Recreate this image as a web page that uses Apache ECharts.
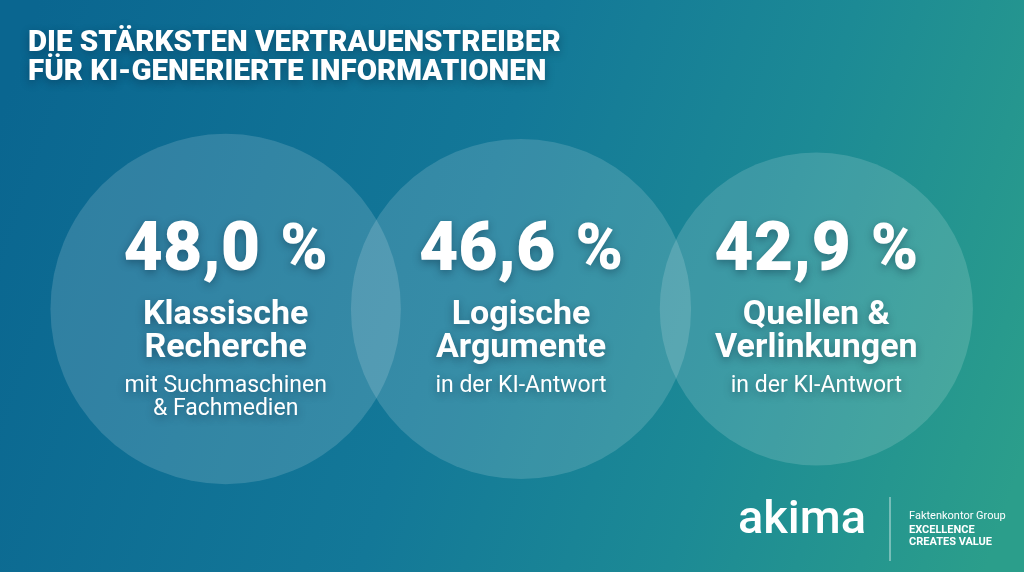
<!DOCTYPE html>
<html>
<head>
<meta charset="utf-8">
<script src="https://cdn.jsdelivr.net/npm/echarts@6/dist/echarts.min.js"></script>
<style>
html,body{margin:0;padding:0;width:1024px;height:572px;overflow:hidden;}
#chart{width:1024px;height:572px;}
</style>
</head>
<body>
<div id="chart"></div>
<script>
const categories = ['Klassische Recherche', 'Logische Argumente', 'Quellen & Verlinkungen'];
const values = [48.0, 46.6, 42.9];
const valueLabels = ['48,0', '46,6', '42,9'];
const titleLines = [['Klassische', 'Recherche'], ['Logische', 'Argumente'], ['Quellen &', 'Verlinkungen']];
const subLines = [['mit Suchmaschinen', '& Fachmedien'], ['in der KI-Antwort'], ['in der KI-Antwort']];
const chartTitle = ['DIE STÄRKSTEN VERTRAUENSTREIBER', 'FÜR KI-GENERIERTE INFORMATIONEN'];
const brand = 'akima';
const brandLines = ['Faktenkontor Group', 'EXCELLENCE', 'CREATES VALUE'];

const shadow = { textShadowColor: 'rgba(0,20,40,0.35)', textShadowBlur: 8, textShadowOffsetY: 3 };

const chart = echarts.init(document.getElementById('chart'));
chart.setOption({
  backgroundColor: {
    type: 'linear', x: 0, y: 0.2, x2: 1, y2: 0.8,
    colorStops: [
      { offset: 0, color: '#0a6690' },
      { offset: 0.45, color: '#137898' },
      { offset: 0.72, color: '#1c8a95' },
      { offset: 1, color: '#2b9e8b' }
    ]
  },
  title: {
    text: chartTitle.join('\n'),
    left: 23, top: 24,
    textStyle: Object.assign({
      color: '#ffffff', fontFamily: 'Roboto', fontWeight: 900, fontSize: 29.5, lineHeight: 29
    }, shadow)
  },
  grid: { left: 78, right: 60, top: 109, bottom: 63 },
  xAxis: { type: 'category', data: categories, show: false },
  yAxis: { type: 'value', min: -1, max: 1, show: false },
  series: [{
    type: 'scatter',
    symbol: 'circle',
    data: categories.map(c => [c, 0]),
    symbolSize: (val, p) => values[p.dataIndex] * 7.3,
    itemStyle: { color: 'rgba(255,255,255,0.15)', opacity: 1 },
    silent: true,
    label: {
      show: true,
      position: 'inside',
      verticalAlign: 'top',
      offset: [0, -103],
      formatter: p => {
        const i = p.dataIndex;
        let s = '{num|' + valueLabels[i] + '}{pct|%}\n';
        s += titleLines[i].map(t => '{t|' + t + '}').join('\n');
        s += '\n{gap| }\n';
        s += subLines[i].map(t => '{s|' + t + '}').join('\n');
        return s;
      },
      rich: {
        num: Object.assign({ color: '#fff', fontFamily: 'Roboto', fontWeight: 900, fontSize: 68, lineHeight: 93 }, shadow),
        pct: Object.assign({ color: '#fff', fontFamily: 'Roboto', fontWeight: 900, fontSize: 64, lineHeight: 93, padding: [0, 0, 0, 20] }, shadow),
        t: Object.assign({ color: '#fff', fontFamily: 'Roboto', fontWeight: 'bold', fontSize: 34, lineHeight: 33 }, shadow),
        gap: { fontSize: 2, lineHeight: 10 },
        s: Object.assign({ color: '#fff', fontFamily: 'Roboto', fontWeight: 'normal', fontSize: 23, lineHeight: 23 }, shadow)
      }
    }
  }],
  graphic: [
    { type: 'text', left: 738, top: 498, style: { text: brand, fill: '#fff', font: '500 47px Roboto' } },
    { type: 'line', shape: { x1: 890, y1: 497, x2: 890, y2: 561 }, style: { stroke: 'rgba(255,255,255,0.75)', lineWidth: 1 } },
    { type: 'text', left: 909, top: 511, style: { text: brandLines[0], fill: '#fff', font: 'normal 11px Roboto' } },
    { type: 'text', left: 909, top: 525, style: { text: brandLines[1], fill: '#fff', font: 'bold 11px Roboto' } },
    { type: 'text', left: 909, top: 537, style: { text: brandLines[2], fill: '#fff', font: 'bold 11px Roboto' } }
  ]
});
</script>
</body>
</html>
